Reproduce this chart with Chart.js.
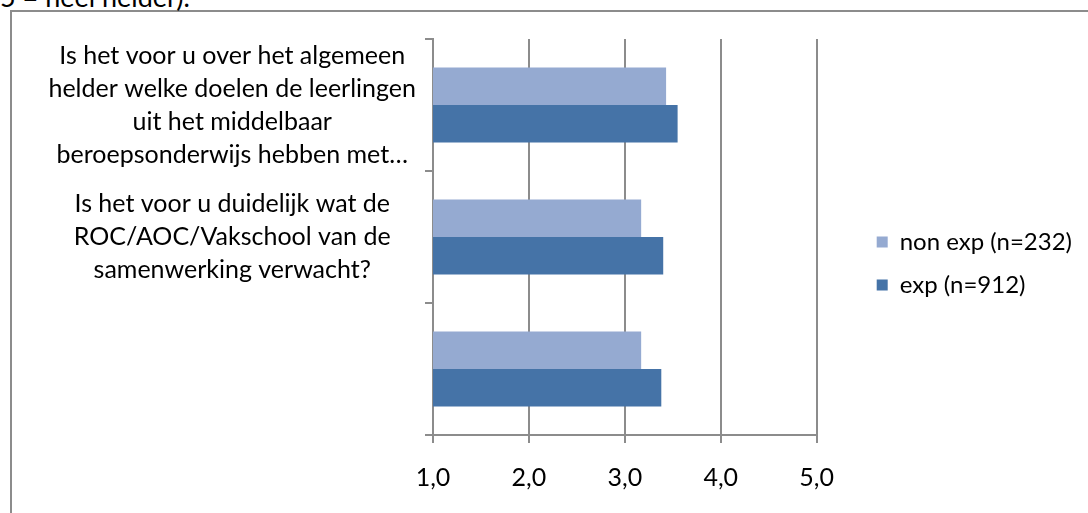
<!DOCTYPE html>
<html>
<head>
<meta charset="utf-8">
<script src="https://cdn.jsdelivr.net/npm/chart.js@4"></script>
<style>
  html, body { margin: 0; padding: 0; background: #fff; overflow: hidden; }
  #wrap { position: relative; width: 1088px; height: 513px; overflow: hidden; }
  #frame { position: absolute; left: 10px; top: 10px; width: 1200px; height: 700px; border: 2px solid #8c8c8c; }
  #cut { position: absolute; left: 0; top: -17px; font: 27px Lato, sans-serif; line-height: 27px; color: #000; white-space: nowrap; }
  #myChart { position: absolute; left: 0; top: 0; }
</style>
</head>
<body>
<div id="wrap">
  <div id="frame"></div>
  <div id="cut">5 = heel helder).</div>
  <canvas id="myChart" width="1088" height="513"></canvas>
</div>
<script>
var categories = [
  ['Is het voor u over het algemeen', 'helder welke doelen de leerlingen', 'uit het middelbaar', 'beroepsonderwijs hebben met…'],
  ['Is het voor u duidelijk wat de', 'ROC/AOC/Vakschool van de', 'samenwerking verwacht?'],
  ''
]
var nonExp = [3.43, 3.17, 3.17]
var exp = [3.55, 3.40, 3.38]
var seriesNames = ['non exp (n=232)', 'exp (n=912)']
var xTickLabels = ['1,0', '2,0', '3,0', '4,0', '5,0']

var lineGrey = '#8c8c8c'

new Chart('myChart', {
  type: 'bar',
  data: {
    labels: categories,
    datasets: [{
      label: seriesNames[0],
      data: nonExp,
      backgroundColor: '#95aad1',
      xAxisID: 'x',
      yAxisID: 'y'
    }, {
      label: seriesNames[1],
      data: exp,
      backgroundColor: '#4573a7',
      xAxisID: 'x',
      yAxisID: 'y'
    }]
  },
  options: {
    indexAxis: 'y',
    responsive: false,
    animation: false,
    devicePixelRatio: 1,
    categoryPercentage: 0.57,
    barPercentage: 1,
    layout: {padding: {top: 39, left: 0, right: 6, bottom: 0}},
    scales: {
      x: {
        type: 'linear',
        position: 'bottom',
        min: 1,
        max: 5,
        ticks: {
          stepSize: 1,
          color: '#000',
          font: {family: 'Lato', size: 25},
          padding: 20,
          callback: function(v, i) { return xTickLabels[i] }
        },
        grid: {color: lineGrey, lineWidth: 2, tickLength: 8},
        border: {color: lineGrey, width: 2}
      },
      y: {
        position: 'left',
        afterFit: function(s) { s.width = 433 },
        ticks: {
          autoSkip: false,
          color: '#000',
          font: {family: 'Lato', size: 25, lineHeight: 1.32},
          crossAlign: 'center',
          padding: 9
        },
        grid: {color: lineGrey, lineWidth: 2, tickLength: 8, drawOnChartArea: false},
        border: {color: lineGrey, width: 2}
      },
      // empty space between the plot and the legend
      gap: {
        type: 'linear',
        position: 'right',
        display: false,
        afterFit: function(s) { s.width = 41 }
      }
    },
    plugins: {
      tooltip: {enabled: false},
      legend: {
        display: true,
        position: 'right',
        align: 'start',
        // blank title only pushes the items down
        title: {display: true, text: ' ', font: {size: 10, lineHeight: 1}, padding: {top: 162, bottom: 0}},
        labels: {boxWidth: 11, boxHeight: 11, padding: 19, color: '#000', font: {family: 'Lato', size: 24}}
      }
    }
  }
})
</script>
</body>
</html>
